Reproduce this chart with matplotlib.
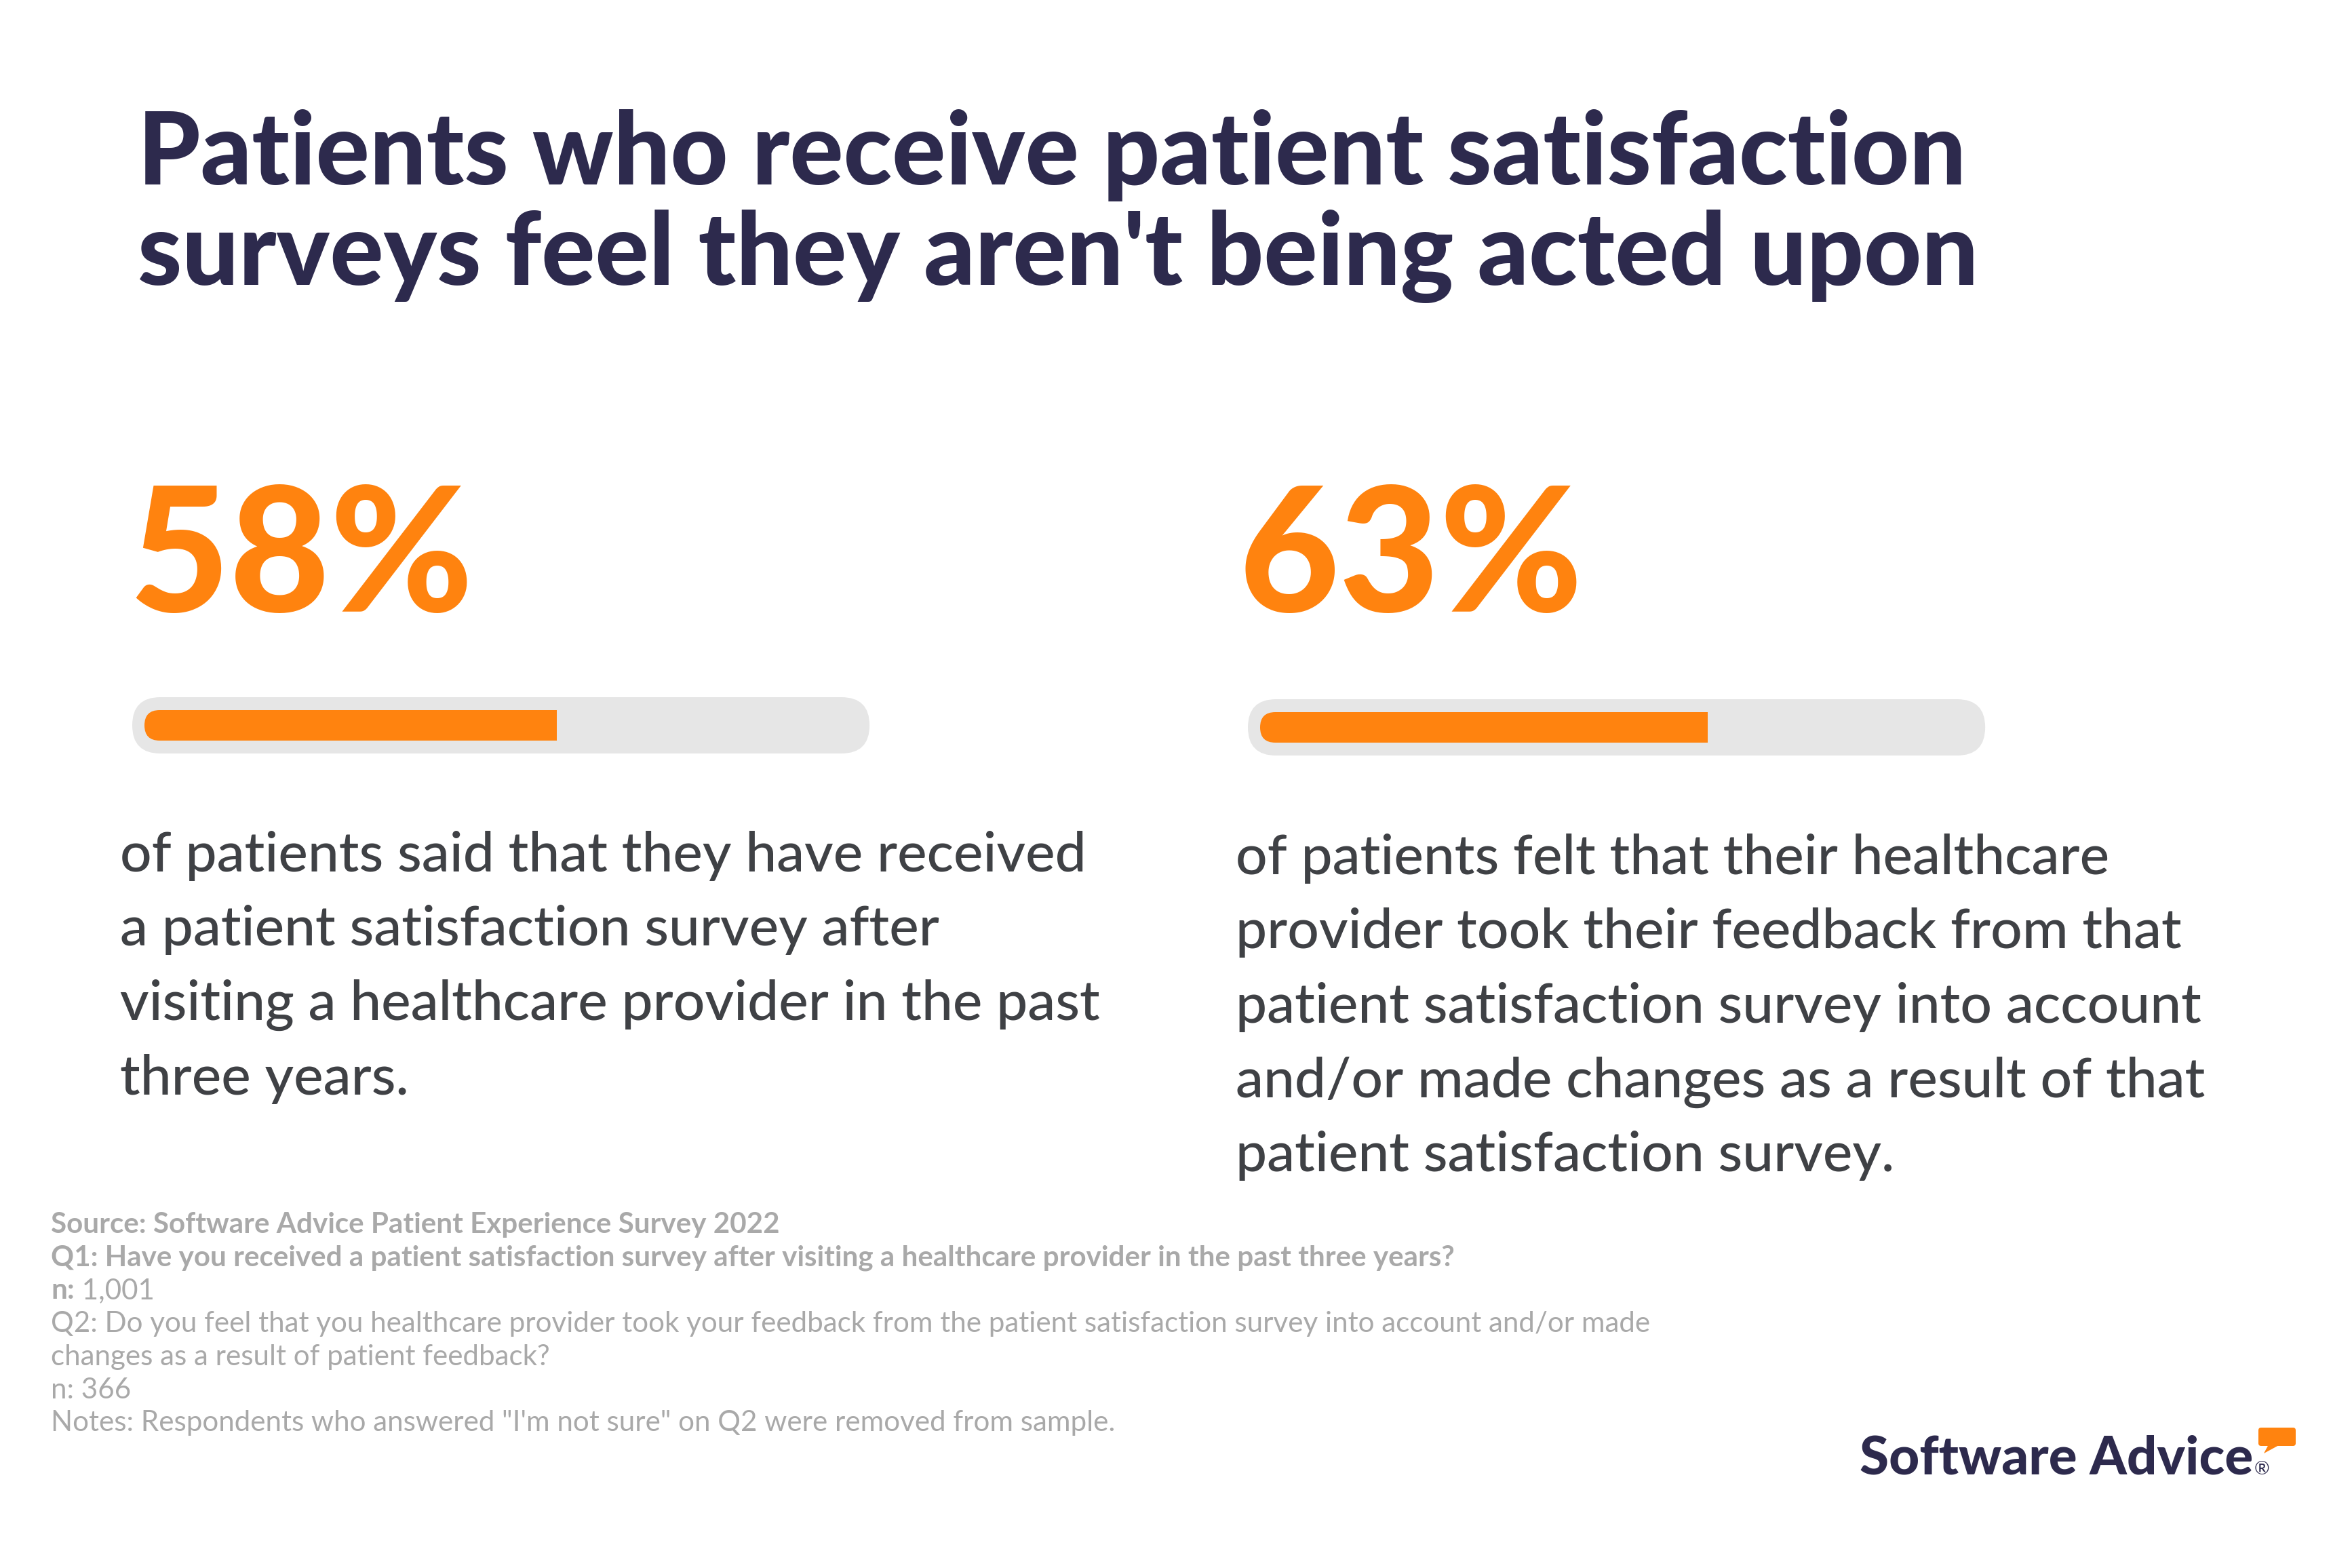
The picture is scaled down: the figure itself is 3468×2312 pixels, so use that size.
import matplotlib
matplotlib.use("Agg")
import matplotlib.pyplot as plt
from matplotlib.patches import FancyBboxPatch, Polygon

# ---------------- data ----------------
title_lines = ["Patients who receive patient satisfaction",
               "surveys feel they aren't being acted upon"]
stat_labels = ["58%", "63%"]
stat_values = [58, 63]
desc_left = ["of patients said that they have received",
             "a patient satisfaction survey after",
             "visiting a healthcare provider in the past",
             "three years."]
desc_right = ["of patients felt that their healthcare",
              "provider took their feedback from that",
              "patient satisfaction survey into account",
              "and/or made changes as a result of that",
              "patient satisfaction survey."]
foot_bold = ["Source: Software Advice Patient Experience Survey 2022",
             "Q1: Have you received a patient satisfaction survey after visiting a healthcare provider in the past three years?",
             "n:", "", "", "", ""]
foot_regular = ["", "", " 1,001",
                "Q2: Do you feel that you healthcare provider took your feedback from the patient satisfaction survey into account and/or made",
                "changes as a result of patient feedback?",
                "n: 366",
                "Notes: Respondents who answered \"I'm not sure\" on Q2 were removed from sample."]
logo_text = "Software Advice"

# ---------------- style ----------------
W, H, DPI = 3468, 2312, 100
NAVY = "#2D2A4D"
ORANGE = "#FF830F"
TRACK = "#E6E6E6"
BODY = "#3F4145"
FOOT = "#A9A9A9"
HEAVY = "Lato"
BODYF = "Lato"

fig = plt.figure(figsize=(W / DPI, H / DPI), dpi=DPI)
fig.patch.set_facecolor("white")
ax = fig.add_axes([0, 0, 1, 1])
ax.set_xlim(0, W)
ax.set_ylim(H, 0)
ax.axis("off")
renderer = fig.canvas.get_renderer()


def width_of(s, size, **kw):
    t = ax.text(0, 0, s, fontsize=size, **kw)
    w = t.get_window_extent(renderer).width
    t.remove()
    return w


def fit(s, target, **kw):
    return 100.0 * target / width_of(s, 100, **kw)


# title
tkw = dict(family=HEAVY, weight="black")
ts = fit(title_lines[0], 2897 - 203, **tkw)
for s, yb in zip(title_lines, [272, 420]):
    ax.text(203, yb, s, fontsize=ts, color=NAVY, va="baseline", ha="left", **tkw)

# big stats
skw = dict(family=HEAVY, weight="black")
ss = fit(stat_labels[0], 703 - 195, **skw)
for s, x in zip(stat_labels, [190, 1826]):
    ax.text(x, 902, s, fontsize=ss, color=ORANGE, va="baseline", ha="left", **skw)

# bars (percent scale axes)
PX_PER_PCT = 10.48
bar_left_px = [213, 1858]
bar_top_px = [1028, 1031]
TRACK_H = 83
FILL_H = 45
for val, lx, ty in zip(stat_values, bar_left_px, bar_top_px):
    bax = fig.add_axes([lx / W, (H - ty - TRACK_H) / H, 100 * PX_PER_PCT / W, TRACK_H / H])
    bax.set_xlim(0, 100)
    bax.set_ylim(0, TRACK_H)
    bax.axis("off")
    r_track = (TRACK_H / 2) / PX_PER_PCT
    pad = 18 / PX_PER_PCT
    bax.add_patch(FancyBboxPatch((-pad, 0), 100 + 2 * pad + 0.3, TRACK_H,
                                 boxstyle=f"round,pad=0,rounding_size={r_track}",
                                 mutation_aspect=PX_PER_PCT, fc=TRACK, ec="none",
                                 clip_on=False))
    r_fill = (FILL_H / 2) / PX_PER_PCT
    yc = TRACK_H / 2
    bax.barh(yc, val - r_fill, left=r_fill, height=FILL_H, color=ORANGE,
             linewidth=0, clip_on=False)
    bax.add_patch(FancyBboxPatch((0, yc - FILL_H / 2), 2.2 * r_fill, FILL_H,
                                 boxstyle=f"round,pad=0,rounding_size={r_fill}",
                                 mutation_aspect=PX_PER_PCT, fc=ORANGE, ec="none",
                                 clip_on=False))

# descriptions
bkw = dict(family=BODYF, weight="medium")
bs = fit(desc_left[0], 1603 - 177, **bkw)
for i, s in enumerate(desc_left):
    ax.text(177, 1285 + i * 109.5, s, fontsize=bs, color=BODY, va="baseline", **bkw)
for i, s in enumerate(desc_right):
    ax.text(1822, 1289 + i * 109.5, s, fontsize=bs, color=BODY, va="baseline", **bkw)

# footnotes
fkw_b = dict(family=BODYF, weight="bold")
fkw_r = dict(family=BODYF, weight="normal")
fs = fit(foot_regular[6], 1645 - 75, **fkw_r)
for i, (sb, sr) in enumerate(zip(foot_bold, foot_regular)):
    yb = 1818 + i * 48.7
    x = 75
    if sb:
        ax.text(x, yb, sb, fontsize=fs, color=FOOT, va="baseline", **fkw_b)
        x += width_of(sb, fs, **fkw_b)
    if sr:
        ax.text(x, yb, sr, fontsize=fs, color=FOOT, va="baseline", **fkw_r)

# logo
lkw = dict(family=HEAVY, weight="black")
ls = fit(logo_text, 3322 - 2742, **lkw)
ax.text(2742, 2174, logo_text, fontsize=ls, color=NAVY, va="baseline", **lkw)
ax.text(3324, 2174, "®", fontsize=ls * 0.35, color=NAVY, va="baseline", family=BODYF)
ax.add_patch(FancyBboxPatch((3330, 2105), 55, 27, boxstyle="round,pad=0,rounding_size=4",
                            fc=ORANGE, ec="none"))
ax.add_patch(Polygon([[3345, 2130], [3362, 2130], [3338, 2143]], closed=True,
                     fc=ORANGE, ec="none"))

fig.savefig("out.png", dpi=DPI, facecolor="white")
